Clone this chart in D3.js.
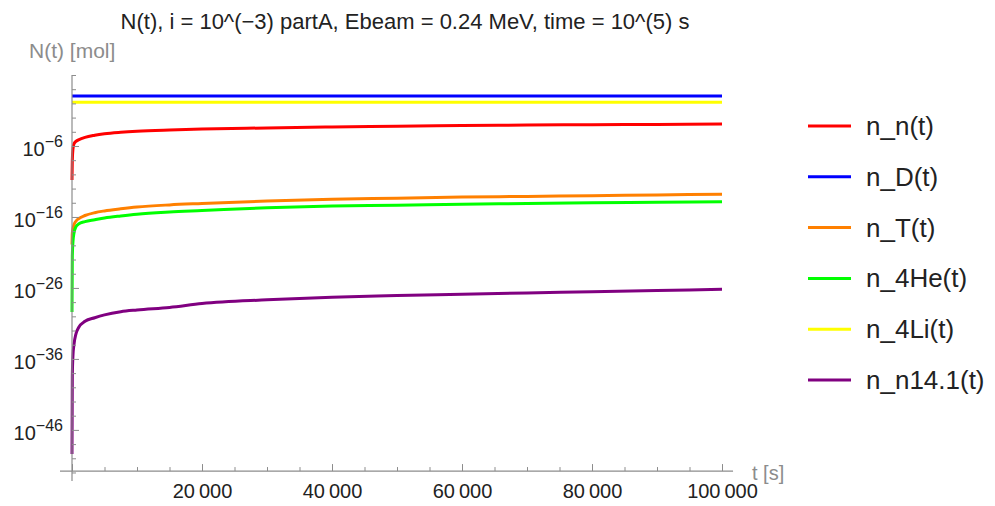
<!DOCTYPE html>
<html>
<head>
<meta charset="utf-8">
<script src="https://cdn.jsdelivr.net/npm/d3@7"></script>
<style>
  html, body { margin: 0; padding: 0; background: #fff; }
  svg { display: block; font-family: Arial, "Liberation Sans", sans-serif; }
</style>
</head>
<body>
<svg id="chart" width="995" height="506"></svg>
<script>
// Time samples in seconds
const times = [0, 50, 150, 300, 600, 1000, 2000, 3500, 5000, 7500, 10000, 15000,
               20000, 30000, 40000, 50000, 60000, 70000, 80000, 90000, 100000];

// Amounts in mol for each species
const nN = [1.6e-11, 1.0e-8, 4.0e-7, 2.0e-6, 4.5e-6, 7.1e-6, 1.6e-5, 3.2e-5, 5.2e-5, 8.5e-5, 1.2e-4, 1.8e-4,
            2.4e-4, 3.5e-4, 4.8e-4, 6.0e-4, 7.4e-4, 8.7e-4, 1.0e-3, 1.1e-3, 1.25e-3];
const nD = [11, 11, 11, 11, 11, 11, 11, 11, 11, 11, 11, 11,
            11, 11, 11, 11, 11, 11, 11, 11, 11];
const nT = [1.3e-20, 5.0e-19, 2.5e-18, 7.9e-18, 2.5e-17, 5.6e-17, 1.6e-16, 4.0e-16, 7.1e-16, 1.4e-15, 2.5e-15, 5.0e-15,
            7.9e-15, 1.8e-14, 3.2e-14, 4.5e-14, 6.3e-14, 7.9e-14, 1.0e-13, 1.26e-13, 1.6e-13];
const n4He = [4.0e-30, 3.2e-22, 3.2e-20, 5.0e-19, 4.0e-18, 1.0e-17, 2.2e-17, 4.0e-17, 7.1e-17, 1.4e-16, 2.5e-16, 5.0e-16,
              7.9e-16, 2.0e-15, 3.5e-15, 4.5e-15, 6.3e-15, 7.9e-15, 1.0e-14, 1.2e-14, 1.4e-14];
const n4Li = [1.4, 1.4, 1.4, 1.4, 1.4, 1.4, 1.4, 1.4, 1.4, 1.4, 1.4, 1.4,
              1.4, 1.4, 1.4, 1.4, 1.4, 1.4, 1.4, 1.4, 1.4];
const nN141 = [4.0e-50, 3.2e-39, 3.2e-36, 1.0e-34, 3.2e-33, 2.5e-32, 2.0e-31, 6.3e-31, 1.6e-30, 4.5e-30, 7.9e-30, 1.8e-29,
               6.3e-29, 2.1e-28, 5.0e-28, 8.3e-28, 1.3e-27, 2.0e-27, 2.8e-27, 4.2e-27, 6.3e-27];

const seriesNames = ["n_n(t)", "n_D(t)", "n_T(t)", "n_4He(t)", "n_4Li(t)", "n_n14.1(t)"];
const seriesValues = [nN, nD, nT, n4He, n4Li, nN141];
const seriesColors = ["#ff0000", "#0000ff", "#ff8000", "#00ff00", "#ffff00", "#800080"];

// Axis ticks
const xMajorTicks = [0, 20000, 40000, 60000, 80000, 100000];
const xMinorTicks = [5000, 10000, 15000, 25000, 30000, 35000, 45000, 50000, 55000,
                     65000, 70000, 75000, 85000, 90000, 95000];
const yMajorExponents = [-6, -16, -26, -36, -46];
const yMinorExponents = [4, 2, 0, -2, -4, -8, -10, -12, -14, -18, -20, -22, -24, -28, -30, -32, -34,
                         -38, -40, -42, -44, -48, -50, -52];

const titleText = "N(t), i = 10^(\u22123) partA, Ebeam = 0.24 MeV, time = 10^(5) s";
const yLabel = "N(t) [mol]";
const xLabel = "t [s]";

const svg = d3.select("#chart");
const axisColor = "#8c8c8c";
const labelColor = "#222";

// Scales
const x = d3.scaleLinear().domain([0, 100000]).range([72, 722]);
const y = d3.scaleLog().domain([Math.pow(10, -53.2), 1e4]).range([481, 75]);
const xAxisAt = Math.pow(10, -51.8);
const xStart = -1850, xEnd = 101700;

// Curves
const line = d3.line()
  .x((d, i) => x(times[i]))
  .y(d => y(d))
  .curve(d3.curveMonotoneX);

const curves = svg.append("g");
seriesValues.forEach((vals, k) => {
  curves.append("path")
    .datum(vals)
    .attr("d", line)
    .attr("fill", "none")
    .attr("stroke", seriesColors[k])
    .attr("stroke-width", 3)
    .attr("stroke-linejoin", "round");
});

// X axis (ticks pointing into the plot)
const xAxisY = y(xAxisAt);
const xg = svg.append("g").attr("transform", `translate(0,${xAxisY})`);
xg.append("line")
  .attr("x1", x(xStart)).attr("x2", x(xEnd))
  .attr("stroke", axisColor).attr("stroke-width", 1.2);
xg.append("g")
  .call(d3.axisBottom(x).tickValues(xMinorTicks).tickSize(-4).tickFormat(""))
  .call(g => g.select(".domain").remove())
  .call(g => g.selectAll(".tick line").attr("stroke", axisColor));
xg.append("g")
  .call(d3.axisBottom(x).tickValues(xMajorTicks).tickSize(-7).tickPadding(13)
    .tickFormat(d => d === 0 ? "" : d3.format(",")(d).replace(",", "\u2009")))
  .call(g => g.select(".domain").remove())
  .call(g => g.selectAll(".tick line").attr("stroke", axisColor))
  .call(g => g.selectAll(".tick text")
    .attr("font-size", 20).attr("fill", labelColor)
    .attr("font-family", "Arial, 'Liberation Sans', sans-serif"));

svg.append("text")
  .attr("x", 752).attr("y", 480)
  .attr("font-size", 20).attr("fill", axisColor)
  .text(xLabel);

// Y axis (log scale, ticks pointing into the plot)
const yg = svg.append("g").attr("transform", `translate(${x(0)},0)`);
yg.append("line")
  .attr("y1", y.range()[0]).attr("y2", y.range()[1])
  .attr("stroke", axisColor).attr("stroke-width", 1.2);
yg.append("g")
  .call(d3.axisLeft(y).tickValues(yMinorExponents.map(e => Math.pow(10, e))).tickSize(-4).tickFormat(""))
  .call(g => g.select(".domain").remove())
  .call(g => g.selectAll(".tick line").attr("stroke", axisColor));
yg.append("g")
  .call(d3.axisLeft(y).tickValues(yMajorExponents.map(e => Math.pow(10, e))).tickSize(-7).tickPadding(9).tickFormat(""))
  .call(g => g.select(".domain").remove())
  .call(g => g.selectAll(".tick line").attr("stroke", axisColor))
  .call(g => g.selectAll(".tick text")
    .attr("font-family", "Arial, 'Liberation Sans', sans-serif")
    .attr("fill", labelColor)
    .attr("text-anchor", "end")
    .attr("dy", null)
    .attr("y", 10)
    .each(function(d) {
      const t = d3.select(this);
      const e = Math.round(Math.log10(d));
      t.append("tspan").attr("font-size", 20).text("10");
      t.append("tspan").attr("font-size", 16).attr("dy", -9)
        .text(e < 0 ? "\u2212" + Math.abs(e) : String(e));
    }));

svg.append("text")
  .attr("x", 29).attr("y", 58)
  .attr("font-size", 21).attr("fill", axisColor)
  .text(yLabel);

// Title
svg.append("text")
  .attr("x", 405).attr("y", 29)
  .attr("text-anchor", "middle")
  .attr("font-size", 22).attr("fill", labelColor)
  .text(titleText);

// Legend
const legend = svg.append("g");
seriesNames.forEach((name, k) => {
  const ly = 126 + k * 50.8;
  legend.append("line")
    .attr("x1", 808).attr("x2", 851).attr("y1", ly).attr("y2", ly)
    .attr("stroke", seriesColors[k]).attr("stroke-width", 3);
  legend.append("text")
    .attr("x", 866).attr("y", ly + 9)
    .attr("font-size", 26).attr("fill", labelColor)
    .text(name);
});
</script>
</body>
</html>
